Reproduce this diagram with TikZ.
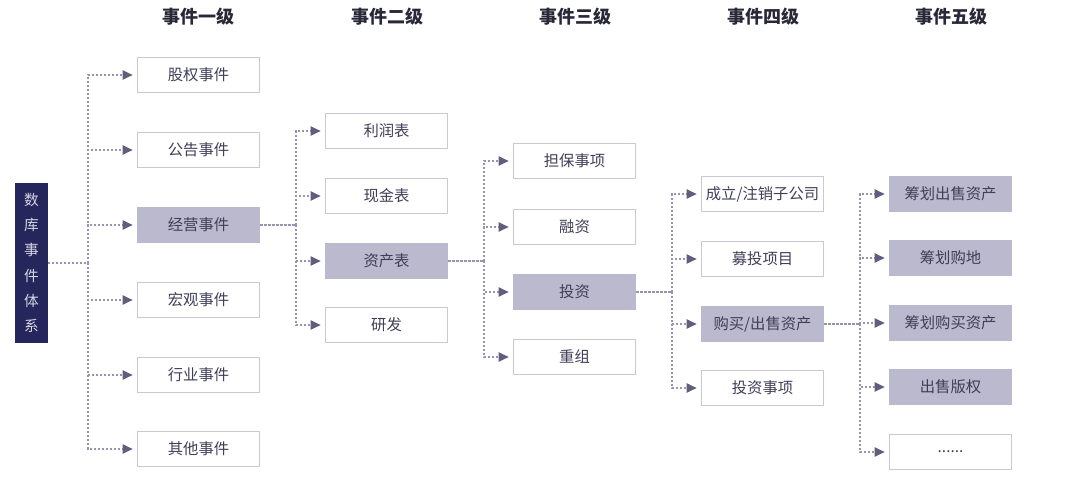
\documentclass[tikz,border=0pt]{standalone}
\usepackage{fontspec}
\setmainfont{Noto Sans CJK SC}
\usetikzlibrary{arrows.meta}
\definecolor{navy}{RGB}{36,38,92}
\definecolor{roottext}{RGB}{215,214,228}
\definecolor{boxline}{RGB}{200,200,216}
\definecolor{boxfill}{RGB}{187,185,206}
\definecolor{boxtext}{RGB}{62,62,88}
\definecolor{linkcol}{RGB}{150,148,176}
\definecolor{tipcol}{RGB}{96,94,124}
\definecolor{headcol}{RGB}{40,40,56}

\begin{document}
\begin{tikzpicture}[x=0.75pt,y=0.75pt,yscale=-1,xscale=1,
  box/.style={draw=boxline, line width=0.8pt, minimum width=92pt, minimum height=26pt, inner sep=0pt, text=boxtext, font=\fontsize{11.5}{13}\selectfont},
  hibox/.style={box, fill=boxfill, draw=boxfill},
  head/.style={text=headcol, font=\fontsize{13.5}{15}\selectfont\bfseries},
  link/.style={draw=linkcol, line width=0.8pt, dash pattern=on 1.6pt off 1.4pt},
  arrow/.style={link, -{Triangle[length=7.5pt,width=7pt,color=tipcol,fill=tipcol,sep=0pt]}, shorten >=3pt}]
\useasboundingbox (0,0) rectangle (1080,481);

% Text Node
\node[head] (h1) at (198,17) {事件一级};
\node[head] (h2) at (387,17) {事件二级};
\node[head] (h3) at (575,17) {事件三级};
\node[head] (h4) at (763,17) {事件四级};
\node[head] (h5) at (951,17) {事件五级};

%Shape: Rectangle (root)
\node[fill=navy, minimum width=24.75pt, minimum height=120pt, inner sep=0pt, text=roottext, align=center, font=\fontsize{11}{19}\selectfont] (root) at (31.5,263) {数\\库\\事\\件\\体\\系};

% level one
\node[box] (equity) at (198.5,75) {股权事件};
\node[box] (notice) at (198.5,150) {公告事件};
\node[hibox] (operate) at (198.5,225) {经营事件};
\node[box] (macro) at (198.5,300) {宏观事件};
\node[box] (industry) at (198.5,375) {行业事件};
\node[box] (other) at (198.5,449) {其他事件};

% level two
\node[box] (profit) at (386.5,131) {利润表};
\node[box] (cash) at (386.5,196) {现金表};
\node[hibox] (assets) at (386.5,261) {资产表};
\node[box] (rnd) at (386.5,325) {研发};

% level three
\node[box] (guarantee) at (574.5,161) {担保事项};
\node[box] (finance) at (574.5,227) {融资};
\node[hibox] (invest) at (574.5,292) {投资};
\node[box] (restruct) at (574.5,357) {重组};

% level four
\node[box] (company) at (762.5,194) {成立/注销子公司};
\node[box] (project) at (762.5,259) {募投项目};
\node[hibox] (trade) at (762.5,324) {购买/出售资产};
\node[box] (matter) at (762.5,388) {投资事项};

% level five
\node[hibox] (plansell) at (950.5,194) {筹划出售资产};
\node[hibox] (planland) at (950.5,258) {筹划购地};
\node[hibox] (planbuy) at (950.5,323) {筹划购买资产};
\node[hibox] (copyright) at (950.5,387) {出售版权};
\node[box] (more) at (950.5,452) {......};

%Straight Lines (trunks)
\coordinate (t1) at (88,263);
\coordinate (t2) at (296,225);
\coordinate (t3) at (484,261);
\coordinate (t4) at (672,292);
\coordinate (t5) at (860,324);

\draw[link] (root.east) -- (t1);
\draw[arrow] (t1) |- (equity.west);
\draw[arrow] (t1) |- (notice.west);
\draw[arrow] (t1) |- (operate.west);
\draw[arrow] (t1) |- (macro.west);
\draw[arrow] (t1) |- (industry.west);
\draw[arrow] (t1) |- (other.west);

\draw[link] (operate.east) -- (t2);
\draw[arrow] (t2) |- (profit.west);
\draw[arrow] (t2) |- (cash.west);
\draw[arrow] (t2) |- (assets.west);
\draw[arrow] (t2) |- (rnd.west);

\draw[link] (assets.east) -- (t3);
\draw[arrow] (t3) |- (guarantee.west);
\draw[arrow] (t3) |- (finance.west);
\draw[arrow] (t3) |- (invest.west);
\draw[arrow] (t3) |- (restruct.west);

\draw[link] (invest.east) -- (t4);
\draw[arrow] (t4) |- (company.west);
\draw[arrow] (t4) |- (project.west);
\draw[arrow] (t4) |- (trade.west);
\draw[arrow] (t4) |- (matter.west);

\draw[link] (trade.east) -- (t5);
\draw[arrow] (t5) |- (plansell.west);
\draw[arrow] (t5) |- (planland.west);
\draw[arrow] (t5) |- (planbuy.west);
\draw[arrow] (t5) |- (copyright.west);
\draw[arrow] (t5) |- (more.west);

\end{tikzpicture}
\end{document}
